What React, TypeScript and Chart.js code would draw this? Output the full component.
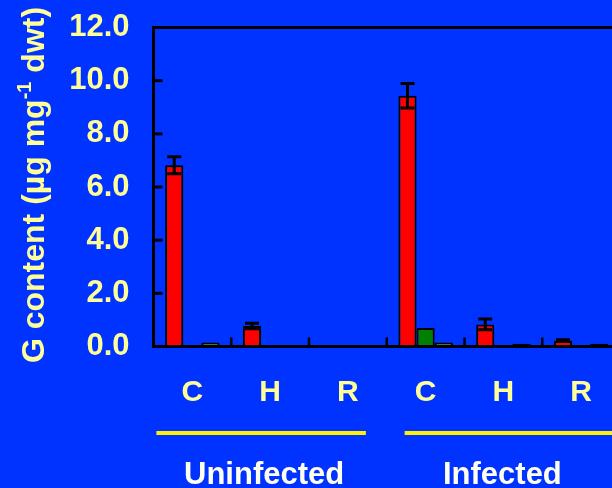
import React, { useEffect, useRef } from "react";
import { Chart, registerables } from "chart.js";

Chart.register(...registerables);

const categories = ["C", "H", "R", "C", "H", "R"];
const groups = ["Uninfected", "Infected"];
const redValues = [6.82, 0.77, 0.05, 9.43, 0.83, 0.22];
const redErrors = [0.32, 0.1, 0, 0.46, 0.2, 0.03];
const greenValues = [0.05, 0.02, 0.02, 0.7, 0.02, 0.02];
const yellowValues = [0.15, 0.02, 0.02, 0.15, 0.1, 0.1];
const yTicks = [0, 2, 4, 6, 8, 10, 12];

const BG = "#0033FF";
const TXT = "#FFFF99";
const FONT = "'Liberation Sans', Arial, sans-serif";

const decorPlugin = {
  id: "decor",
  afterDatasetsDraw(chart: any) {
    const { ctx, chartArea, scales } = chart;
    const x = scales.x;
    const y = scales.y;
    ctx.save();
    // frame
    ctx.strokeStyle = "#000";
    ctx.lineWidth = 3;
    ctx.strokeRect(chartArea.left, chartArea.top, chartArea.right - chartArea.left, chartArea.bottom - chartArea.top);
    // y inner ticks
    ctx.lineWidth = 3;
    yTicks.forEach((v) => {
      const py = y.getPixelForValue(v);
      ctx.beginPath();
      ctx.moveTo(chartArea.left, py);
      ctx.lineTo(chartArea.left + 9, py);
      ctx.stroke();
    });
    // x inner ticks between categories
    ctx.lineWidth = 2.5;
    for (let i = 0; i < categories.length - 1; i++) {
      const px = (x.getPixelForValue(i) + x.getPixelForValue(i + 1)) / 2;
      ctx.beginPath();
      ctx.moveTo(px, chartArea.bottom);
      ctx.lineTo(px, chartArea.bottom - 9);
      ctx.stroke();
    }
    // error bars
    const meta = chart.getDatasetMeta(0);
    ctx.lineWidth = 3;
    meta.data.forEach((bar: any, i: number) => {
      const e = redErrors[i];
      if (!e) return;
      const top = y.getPixelForValue(redValues[i] + e);
      const bot = y.getPixelForValue(redValues[i] - e);
      ctx.beginPath();
      ctx.moveTo(bar.x, top);
      ctx.lineTo(bar.x, bot);
      ctx.moveTo(bar.x - 7, top);
      ctx.lineTo(bar.x + 7, top);
      ctx.moveTo(bar.x - 7, bot);
      ctx.lineTo(bar.x + 7, bot);
      ctx.stroke();
    });
    // group lines and labels
    const g = [
      { start: x.getPixelForValue(0) - 36, end: x.getPixelForValue(2) + 18, cx: x.getPixelForValue(1) - 6 },
      { start: x.getPixelForValue(3) - 21, end: x.getPixelForValue(5) + 35, cx: x.getPixelForValue(4) - 1 },
    ];
    g.forEach((gr, i) => {
      ctx.fillStyle = "#FFF200";
      ctx.fillRect(gr.start, 431, gr.end - gr.start, 4);
      ctx.fillStyle = "#FFFFEE";
      ctx.font = `bold 31px ${FONT}`;
      ctx.textAlign = "center";
      ctx.textBaseline = "alphabetic";
      ctx.fillText(groups[i], gr.cx, 484);
    });
    // y title with superscript
    const parts: [string, number, number][] = [
      ["G content (µg mg", 32, 0],
      ["-1", 20, -13],
      [" dwt)", 32, 0],
    ];
    let total = 0;
    parts.forEach(([t, s]) => {
      ctx.font = `bold ${s}px ${FONT}`;
      total += ctx.measureText(t).width;
    });
    ctx.translate(44, 185);
    ctx.rotate(-Math.PI / 2);
    ctx.fillStyle = TXT;
    ctx.textAlign = "left";
    let cur = -total / 2;
    parts.forEach(([t, s, dy]) => {
      ctx.font = `bold ${s}px ${FONT}`;
      ctx.fillText(t, cur, dy);
      cur += ctx.measureText(t).width;
    });
    ctx.restore();
  },
};

export default function App() {
  const ref = useRef<HTMLCanvasElement | null>(null);
  useEffect(() => {
    if (!ref.current) return;
    const chart = new Chart(ref.current, {
      type: "bar",
      data: {
        labels: categories,
        datasets: [
          { data: redValues, backgroundColor: "#FF0000", borderColor: "#000", borderWidth: 2 },
          { data: greenValues, backgroundColor: "#008000", borderColor: "#000", borderWidth: 2 },
          { data: yellowValues, backgroundColor: "#99CC00", borderColor: "#000", borderWidth: 2 },
        ],
      },
      options: {
        animation: false,
        responsive: false,
        devicePixelRatio: 1,
        layout: { padding: { left: 0, top: 27.5, right: 20, bottom: 0 } },
        plugins: { legend: { display: false }, tooltip: { enabled: false } },
        datasets: { bar: { barPercentage: 1, categoryPercentage: 0.7 } },
        scales: {
          x: {
            grid: { display: false, drawTicks: false },
            border: { display: false },
            ticks: { color: TXT, font: { family: FONT, size: 30, weight: "bold" }, padding: 28 },
            afterFit: (s: any) => { s.height = 141.5; s.paddingLeft = 0; s.paddingRight = 0; },
          },
          y: {
            min: 0,
            max: 12,
            grid: { display: false, drawTicks: false },
            border: { display: false },
            ticks: {
              stepSize: 2,
              color: TXT,
              padding: 24,
              font: { family: FONT, size: 31, weight: "bold" },
              callback: (v: any) => Number(v).toFixed(1),
            },
            afterFit: (s: any) => { s.width = 153.5; s.paddingTop = 0; s.paddingBottom = 0; },
          },
        },
      },
      plugins: [decorPlugin],
    });
    return () => chart.destroy();
  }, []);
  return (
    <div style={{ position: "fixed", left: 0, top: 0, width: 612, height: 488, overflow: "hidden", background: BG }}>
      <canvas ref={ref} width={640} height={488} style={{ width: 640, height: 488, display: "block" }} />
    </div>
  );
}
